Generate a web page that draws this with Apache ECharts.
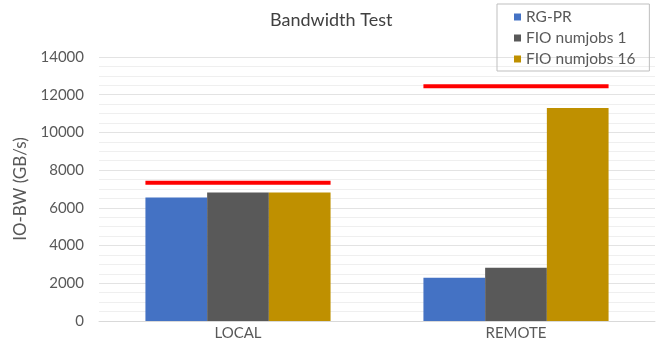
<!DOCTYPE html>
<html>
<head>
<meta charset="utf-8">
<script src="https://cdn.jsdelivr.net/npm/echarts@6/dist/echarts.min.js"></script>
<style>html,body{margin:0;padding:0;background:#fff}#c{width:664px;height:345px}</style>
</head>
<body>
<div id="c"></div>
<script>
var categories = ['LOCAL', 'REMOTE'];
var seriesNames = ['RG-PR', 'FIO numjobs 1', 'FIO numjobs 16'];
var rgpr = [6550, 2300];
var fio1 = [6820, 2820];
var fio16 = [6820, 11300];
var peakLine = [7330, 12450];
var yTicks = [0, 2000, 4000, 6000, 8000, 10000, 12000, 14000];

var FONT = 'Lato';
var chart = echarts.init(document.getElementById('c'));
var catGap = 0.334;

chart.setOption({
  animation: false,
  textStyle: { fontFamily: FONT },
  title: {
    text: 'Bandwidth Test',
    left: 265, top: 6,
    textStyle: { fontFamily: FONT, fontSize: 18, fontWeight: 'normal', color: '#404040' }
  },
  legend: {
    data: seriesNames,
    orient: 'vertical',
    left: 497, top: 4,
    padding: [5, 14, 4, 17],
    itemGap: 5,
    itemWidth: 7, itemHeight: 7,
    icon: 'rect',
    borderColor: '#BFBFBF', borderWidth: 1,
    textStyle: { fontFamily: FONT, fontSize: 15.5, color: '#595959' }
  },
  grid: { left: 99, right: 9, top: 57, bottom: 24, containLabel: false },
  xAxis: {
    type: 'category',
    data: categories,
    axisLine: { lineStyle: { color: '#D9D9D9' } },
    axisTick: { show: false },
    axisLabel: { fontFamily: FONT, fontSize: 15, color: '#595959', margin: 5 }
  },
  yAxis: {
    type: 'value',
    min: yTicks[0], max: yTicks[yTicks.length - 1], interval: 2000,
    name: 'IO-BW (GB/s)',
    nameLocation: 'middle',
    nameGap: 70,
    nameTextStyle: { fontFamily: FONT, fontSize: 17, color: '#595959' },
    axisLine: { show: false },
    axisTick: { show: false },
    axisLabel: { fontFamily: FONT, fontSize: 15, color: '#595959', margin: 15,
      formatter: function (v) { return String(v); } },
    splitLine: { lineStyle: { color: '#E3E3E3', width: 1 } },
    minorTick: { show: false, splitNumber: 4 },
    minorSplitLine: { show: true, lineStyle: { color: '#EFEFEF', width: 1 } }
  },
  series: [
    { name: seriesNames[0], type: 'bar', data: rgpr, barGap: '0%', barCategoryGap: (catGap * 100) + '%',
      itemStyle: { color: '#4472C4' } },
    { name: seriesNames[1], type: 'bar', data: fio1, barGap: '0%', barCategoryGap: (catGap * 100) + '%',
      itemStyle: { color: '#595959' } },
    { name: seriesNames[2], type: 'bar', data: fio16, barGap: '0%', barCategoryGap: (catGap * 100) + '%',
      itemStyle: { color: '#BF9000' } },
    {
      name: 'peak', type: 'custom',
      data: peakLine.map(function (v, i) { return [i, v]; }),
      z: 5,
      renderItem: function (params, api) {
        var p = api.coord([api.value(0), api.value(1)]);
        var band = api.size([1, 0])[0];
        var w = band * (1 - catGap);
        return {
          type: 'rect',
          shape: { x: p[0] - w / 2, y: p[1] - 2, width: w, height: 4 },
          style: { fill: '#FF0000' }
        };
      }
    }
  ]
});
</script>
</body>
</html>
